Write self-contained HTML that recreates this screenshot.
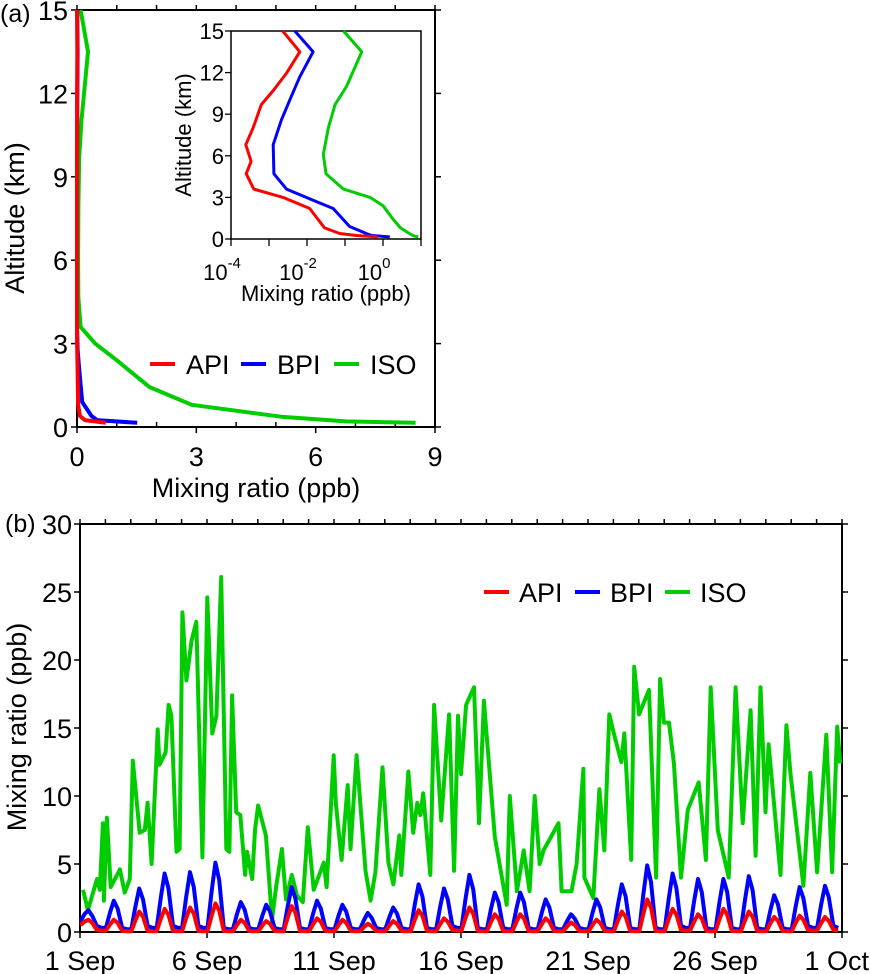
<!DOCTYPE html>
<html><head><meta charset="utf-8"><style>
html,body{margin:0;padding:0;background:#fff;}
svg{display:block;font-family:"Liberation Sans",Arial,sans-serif;}
</style></head><body>
<svg id="fig" width="871" height="974" viewBox="0 0 871 974">
<g id="pa"></g>
<g id="pin"></g>
<g id="pb"></g>
</svg>
<script>
// ---- Panel (a) profile data (altitude km, log10 mixing ratio ppb) ----
const apiAlt = [15,13.5,12,10.7,9.7,8,6.8,5.6,4.7,3.6,3.0,2.2,0.8,0.4,0.25,0.15];
const apiLog = [-2.64,-2.19,-2.53,-2.89,-3.2,-3.42,-3.61,-3.47,-3.6,-3.4,-2.63,-1.93,-1.54,-1.14,-0.7,-0.14];
const bpiAlt = [15,13.5,11.7,10.3,8.6,6.8,4.7,3.6,2.8,2.2,0.9,0.4,0.25,0.15];
const bpiLog = [-2.32,-1.84,-2.19,-2.41,-2.67,-2.89,-2.87,-2.54,-1.84,-1.31,-0.88,-0.44,-0.3,0.18];
const isoAlt = [15,13.5,11,9.7,8,6.1,4.7,3.6,3.0,2.4,1.44,0.8,0.37,0.2,0.15];
const isoLog = [-1.04,-0.56,-0.96,-1.26,-1.44,-1.57,-1.5,-1.04,-0.34,0.0,0.26,0.46,0.71,0.83,0.93];
const aXTicks = [0,3,6,9];
const aYTicks = [0,3,6,9,12,15];
const inXTicks = [-4,-2,0];

// ---- Panel (b) time series (days since 1 Sep, ppb) ----
const isoT = [0.12,0.31,0.67,0.78,0.9,0.94,1.06,1.21,1.57,1.76,1.96,2.08,2.35,2.55,2.66,2.82,3.06,3.13,3.37,3.49,3.6,3.8,3.92,4.03,4.19,4.39,4.58,4.82,5.01,5.21,5.37,5.56,5.76,5.88,5.99,6.15,6.31,6.5,6.58,6.78,6.89,7.01,7.32,7.56,7.72,7.95,8.11,8.34,8.54,8.77,8.97,9.2,9.6,9.71,9.99,10.07,10.3,10.54,10.65,10.89,11.24,11.44,11.63,11.91,12.14,12.34,12.57,12.65,12.93,13.12,13.28,13.4,13.51,13.79,13.94,14.22,14.53,14.73,14.88,15.0,15.2,15.51,15.71,15.9,16.33,16.8,16.92,17.2,17.47,17.7,17.9,18.1,18.25,18.84,18.96,19.35,19.55,19.82,19.86,20.21,20.45,20.64,20.84,21.03,21.31,21.43,21.7,21.82,22.01,22.29,22.4,22.68,22.84,22.99,23.19,23.38,23.66,23.93,24.36,24.64,24.83,25.11,25.54,25.81,26.09,26.4,26.6,26.79,26.99,27.11,27.58,27.81,27.97,28.48,28.75,29.02,29.38,29.61,29.81,29.93];
const isoV = [3.1,1.6,3.9,3.1,8.0,2.3,8.4,3.3,4.6,2.9,3.9,12.6,7.3,7.5,9.5,5.0,14.9,12.3,13.2,16.7,15.9,5.9,6.1,23.5,18.5,21.4,22.8,5.5,24.6,14.6,15.9,26.1,6.1,5.9,17.4,8.8,8.6,4.2,5.9,3.9,7.5,9.3,7.1,0.9,3.3,6.1,2.4,4.2,2.7,2.2,7.7,3.1,5.1,3.3,13.0,9.5,5.3,10.8,6.1,13.0,4.5,2.3,4.4,12.1,5.1,3.5,7.1,4.2,11.8,7.3,9.5,8.6,10.2,4.2,16.7,8.2,16.0,4.5,15.9,11.6,16.7,18,8,17,7,2,10,3,6,3,10,5,6,8,3,3,5,12,4,2.5,10.5,6,16,14.5,12.5,14.6,5.3,19.5,16,17.3,17.8,4,18.6,15.4,15.4,12.4,4,9,11,5.3,18,7.5,4,18,8,16.3,5.6,18,8.8,13.8,4.2,15.2,11.7,3.4,11.7,4.4,14.5,4.4,15.1,12.4];
const bpiPeak = [1.6,2.3,3.2,4.3,4.4,5.1,2.2,2.0,3.3,2.3,2.0,1.4,1.8,3.5,3.2,4.2,2.9,2.9,2.4,1.3,2.4,3.5,4.9,4.3,3.9,3.9,4.1,2.7,3.3,3.4];
const bpiMin  = [0.8,0.3,0.2,0.3,0.3,0.3,0.2,0.2,0.2,0.2,0.2,0.2,0.2,0.2,0.2,0.3,0.2,0.2,0.2,0.2,0.2,0.2,0.2,0.2,0.3,0.2,0.2,0.2,0.2,0.3];
const apiPeak = [0.9,0.9,1.5,1.7,1.8,2.1,0.9,0.8,1.9,1.0,0.9,0.6,0.8,1.6,1.0,1.8,1.3,1.3,1.0,0.7,0.9,1.5,2.4,1.7,1.3,1.7,1.5,1.1,1.2,1.1];
const apiMin  = [0.5,0.1,0.05,0.05,0.05,0.05,0.05,0.05,0.05,0.05,0.05,0.05,0.05,0.05,0.05,0.1,0.05,0.05,0.05,0.05,0.05,0.05,0.05,0.05,0.1,0.05,0.05,0.05,0.05,0.1];
const bXLabels = ["1 Sep","6 Sep","11 Sep","16 Sep","21 Sep","26 Sep","1 Oct"];
const bYTicks = [0,5,10,15,20,25,30];

const NS="http://www.w3.org/2000/svg";
function mk(parent,tag,attrs,text){const e=document.createElementNS(NS,tag);for(const k in attrs)e.setAttribute(k,attrs[k]);if(text!==undefined)e.textContent=text;parent.appendChild(e);return e;}

const RED="#ff0000",BLUE="#0000ff",GREEN="#00cc00";
const FT=27;

// ===== Panel a =====
const pa=document.getElementById('pa');
const aX0=77,aX1=435,aY0=427,aY1=10;
const ax=v=>aX0+v*(aX1-aX0)/9;
const ay=a=>aY0-a*(aY0-aY1)/15;
let r=mk(pa,'rect',{x:aX0,y:aY1,width:aX1-aX0,height:aY0-aY1,fill:'none',stroke:'#000','stroke-width':2});

for(let v=0;v<=9;v++){const maj=v%3===0;const x=ax(v);
 let t=mk(pa,'line',{x1:x,x2:x,y1:aY0,y2:maj?aY0+6:aY0-5,stroke:'#000','stroke-width':1.5});
 
 let t2=mk(pa,'line',{x1:x,x2:x,y1:aY1,y2:aY1-5,stroke:'#000','stroke-width':1.5});
 }
aXTicks.forEach(v=>{let t=mk(pa,'text',{x:ax(v),y:aY0+39,'font-size':FT,'text-anchor':'middle'},String(v));
 });
aYTicks.forEach(v=>{const y=ay(v);
 let l=mk(pa,'line',{x1:aX0-6,x2:aX0,y1:y,y2:y,stroke:'#000','stroke-width':1.5});
 let l2=mk(pa,'line',{x1:aX1,x2:aX1+6,y1:y,y2:y,stroke:'#000','stroke-width':1.5});
 let t=mk(pa,'text',{x:aX0-9,y:y+10,'font-size':FT,'text-anchor':'end'},String(v));});
let tt=mk(pa,'text',{x:256,y:497,'font-size':FT,'text-anchor':'middle'},'Mixing ratio (ppb)');
tt=mk(pa,'text',{x:0,y:0,'font-size':FT,'text-anchor':'middle',transform:'translate(24,218) rotate(-90)'},'Altitude (km)');
tt=mk(pa,'text',{x:0,y:22,'font-size':25},'(a)');
function profPath(alt,lg,fx,fy){return alt.map((a,i)=>(i?'L':'M')+fx(lg[i]).toFixed(1)+','+fy(a).toFixed(1)).join('');}
const linX=l=>ax(Math.pow(10,l));
[[isoAlt,isoLog,GREEN,'a-iso-profile'],[bpiAlt,bpiLog,BLUE,'a-bpi-profile'],[apiAlt,apiLog,RED,'a-api-profile']].forEach(s=>{
 let p=mk(pa,'path',{d:profPath(s[0],s[1],linX,ay),fill:'none',stroke:s[2],'stroke-width':4,'stroke-linejoin':'round'});
 });
[[150,'API',RED],[241,'BPI',BLUE],[334,'ISO',GREEN]].forEach(e=>{
 let g=mk(pa,'g',{});
 mk(g,'line',{x1:e[0],x2:e[0]+25,y1:364,y2:364,stroke:e[2],'stroke-width':4});
 mk(g,'text',{x:e[0]+36,y:374,'font-size':FT},e[1]);});

// ===== Inset =====
const pin=document.getElementById('pin');
const iX0=231,iX1=421,iY0=239,iY1=31;
const ix=l=>iX0+(l+4)*(iX1-iX0)/5;
const iy=a=>iY0-a*(iY0-iY1)/15;
r=mk(pin,'rect',{x:iX0,y:iY1,width:iX1-iX0,height:iY0-iY1,fill:'#fff',stroke:'#000','stroke-width':1.5});

for(let l=-4;l<=1;l++){let t=mk(pin,'line',{x1:ix(l),x2:ix(l),y1:iY0,y2:iY0+7,stroke:'#000','stroke-width':1.3});}
inXTicks.forEach(l=>{let t=mk(pin,'text',{x:ix(l)-9,y:iY0+41,'font-size':22,'text-anchor':'middle'});
 
 mk(t,'tspan',{},'10');mk(t,'tspan',{dy:-12,'font-size':15},String(l));});
aYTicks.forEach(v=>{const y=iy(v);
 let l=mk(pin,'line',{x1:iX0-6,x2:iX0,y1:y,y2:y,stroke:'#000','stroke-width':1.3});
 let t=mk(pin,'text',{x:iX0-7,y:y+8,'font-size':22,'text-anchor':'end'},String(v));});
tt=mk(pin,'text',{x:326,y:301,'font-size':22,'text-anchor':'middle'},'Mixing ratio (ppb)');
tt=mk(pin,'text',{x:0,y:0,'font-size':22,'text-anchor':'middle',transform:'translate(191,135) rotate(-90)'},'Altitude (km)');
[[isoAlt,isoLog,GREEN,'inset-iso-profile'],[bpiAlt,bpiLog,BLUE,'inset-bpi-profile'],[apiAlt,apiLog,RED,'inset-api-profile']].forEach(s=>{
 let p=mk(pin,'path',{d:profPath(s[0],s[1],ix,iy),fill:'none',stroke:s[2],'stroke-width':3,'stroke-linejoin':'round'});
 });

// ===== Panel b =====
const pb=document.getElementById('pb');
const bX0=80,bX1=842,bY0=932,bY1=524;
const bx=d=>bX0+d*(bX1-bX0)/30;
const by=v=>bY0-v*(bY0-bY1)/30;
r=mk(pb,'rect',{x:bX0,y:bY1,width:bX1-bX0,height:bY0-bY1,fill:'none',stroke:'#000','stroke-width':2});

for(let d=0;d<=30;d++){const x=bx(d);
 let t=mk(pb,'line',{x1:x,x2:x,y1:bY0,y2:d%5===0?bY0+6:bY0-5,stroke:'#000','stroke-width':1.5});
 let t2=mk(pb,'line',{x1:x,x2:x,y1:bY1,y2:bY1-5,stroke:'#000','stroke-width':1.5});}
bXLabels.forEach((s,i)=>{const last=i===bXLabels.length-1;
 let t=mk(pb,'text',{x:last?869:bx(i*5),y:bY0+38,'font-size':FT,'text-anchor':last?'end':'middle'},s);});
bYTicks.forEach(v=>{const y=by(v);
 let l=mk(pb,'line',{x1:bX0-6,x2:bX0,y1:y,y2:y,stroke:'#000','stroke-width':1.5});
 let l2=mk(pb,'line',{x1:bX1,x2:bX1+6,y1:y,y2:y,stroke:'#000','stroke-width':1.5});
 let t=mk(pb,'text',{x:bX0-8,y:y+10,'font-size':FT,'text-anchor':'end'},String(v));});
tt=mk(pb,'text',{x:0,y:0,'font-size':FT,'text-anchor':'middle',transform:'translate(26,727) rotate(-90)'},'Mixing ratio (ppb)');
tt=mk(pb,'text',{x:5,y:532,'font-size':25},'(b)');
function dailyPath(peak,mn){let pts=[];for(let d=0;d<peak.length;d++){const nm=d+1<mn.length?mn[d+1]:mn[d];
 pts.push([d+0.02,mn[d]],[d+0.18,(mn[d]+peak[d])*0.55],[d+0.33,peak[d]],[d+0.48,peak[d]*0.75],[d+0.66,nm*1.5],[d+0.85,nm]);}
 return pts.map((p,i)=>(i?'L':'M')+bx(p[0]).toFixed(1)+','+by(p[1]).toFixed(1)).join('');}
let p=mk(pb,'path',{d:isoT.map((t,i)=>(i?'L':'M')+bx(t).toFixed(1)+','+by(isoV[i]).toFixed(1)).join(''),fill:'none',stroke:GREEN,'stroke-width':4,'stroke-linejoin':'round'});

p=mk(pb,'path',{d:dailyPath(bpiPeak,bpiMin),fill:'none',stroke:BLUE,'stroke-width':4,'stroke-linejoin':'round'});

p=mk(pb,'path',{d:dailyPath(apiPeak,apiMin),fill:'none',stroke:RED,'stroke-width':4,'stroke-linejoin':'round'});

[[484,'API',RED],[575,'BPI',BLUE],[665,'ISO',GREEN]].forEach(e=>{
 let g=mk(pb,'g',{});
 mk(g,'line',{x1:e[0],x2:e[0]+25,y1:592,y2:592,stroke:e[2],'stroke-width':4});
 mk(g,'text',{x:e[0]+35,y:602,'font-size':FT},e[1]);});
</script>
</body></html>
